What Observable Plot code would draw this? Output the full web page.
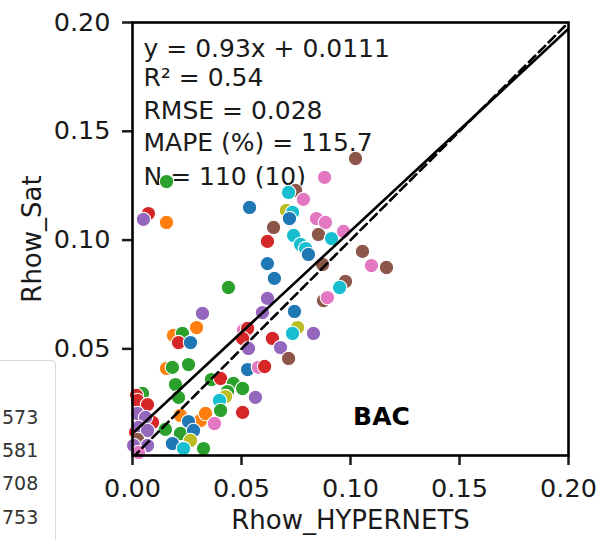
<!DOCTYPE html>
<html>
<head>
<meta charset="utf-8">
<script src="https://cdn.jsdelivr.net/npm/d3@7"></script>
<script src="https://cdn.jsdelivr.net/npm/@observablehq/plot@0.6"></script>
<style>
  html, body { margin: 0; padding: 0; background: #fff; overflow: hidden; }
  #wrap { position: relative; width: 601px; height: 540px; }
  #legend { position: absolute; left: -60px; top: 360px; width: 114px; height: 220px;
    border: 1px solid #d9d9d9; border-radius: 4px; background: #fff; z-index: 2;
    font-family: "DejaVu Sans", sans-serif; font-size: 19px; color: #333; }
  #legend div { position: absolute; left: 61px; }
</style>
</head>
<body>
<div id="wrap">
  <div id="legend"></div>
  <div id="chart"></div>
</div>
<script>
// Rhow_HYPERNETS (x), Rhow_Sat (y), colour group index (tab10)
const hyperX = [0.0156,0.0073,0.0050,0.0156,0.0537,0.0440,0.0881,0.0748,0.0716,0.0784,0.0706,0.0734,0.0720,0.0647,0.0619,0.0739,0.0844,0.0885,0.0853,0.0913,0.0968,0.0771,0.0794,0.0807,0.0619,0.0651,0.0872,0.1055,0.1096,0.1165,0.0977,0.0950,0.0876,0.0894,0.1023,0.0619,0.0596,0.0743,0.0321,0.0294,0.0757,0.0734,0.0830,0.0509,0.0528,0.0505,0.0532,0.0642,0.0679,0.0716,0.0528,0.0578,0.0606,0.0188,0.0229,0.0211,0.0266,0.0156,0.0183,0.0257,0.0197,0.0211,0.0362,0.0404,0.0463,0.0505,0.0436,0.0427,0.0399,0.0404,0.0564,0.0505,0.0220,0.0312,0.0335,0.0257,0.0376,0.0151,0.0220,0.0280,0.0266,0.0183,0.0234,0.0326,0.0046,0.0018,0.0023,0.0069,0.0092,0.0023,0.0060,0.0014,0.0028,0.0069,0.0023,0.0069,0.0005,0.0028];
const satY = [0.1269,0.1122,0.1095,0.1081,0.1150,0.0782,0.1288,0.1228,0.1219,0.1187,0.1136,0.1127,0.1099,0.1058,0.0994,0.1021,0.1099,0.1081,0.1026,0.1007,0.1040,0.0980,0.0961,0.0934,0.0892,0.0824,0.0888,0.0948,0.0883,0.0874,0.0810,0.0782,0.0722,0.0736,0.1375,0.0732,0.0667,0.0672,0.0663,0.0598,0.0598,0.0571,0.0571,0.0585,0.0594,0.0548,0.0502,0.0548,0.0506,0.0456,0.0405,0.0415,0.0419,0.0562,0.0571,0.0529,0.0529,0.0410,0.0415,0.0428,0.0336,0.0277,0.0359,0.0364,0.0341,0.0318,0.0304,0.0281,0.0263,0.0217,0.0277,0.0208,0.0194,0.0171,0.0203,0.0166,0.0157,0.0130,0.0111,0.0125,0.0079,0.0065,0.0042,0.0042,0.0295,0.0286,0.0263,0.0244,0.0162,0.0203,0.0185,0.0116,0.0139,0.0125,0.0084,0.0056,0.0056,0.0024];
const group = [2,3,4,1,0,2,6,5,9,6,8,9,0,5,3,9,6,6,5,9,6,9,9,0,0,0,5,5,6,5,5,9,5,6,5,4,4,0,4,1,8,9,4,6,3,3,4,3,4,5,0,6,3,1,2,3,0,1,2,2,2,2,2,3,2,2,2,8,9,2,4,3,1,1,1,0,6,2,2,0,8,0,9,2,2,3,3,3,3,4,4,3,4,4,5,4,4,6];
const groupColors = ["#1f77b4","#ff7f0e","#2ca02c","#d62728","#9467bd","#8c564b","#e377c2","#7f7f7f","#bcbd22","#17becf"];
const xTicks = [0, 0.05, 0.10, 0.15, 0.20];
const yTicks = [0.05, 0.10, 0.15, 0.20];
const fitSlope = 0.93, fitIntercept = 0.0111;
const statLines = ["y = 0.93x + 0.0111", "R² = 0.54", "RMSE = 0.028", "MAPE (%) = 115.7", "N = 110 (10)"];
const statOffsets = [17, 46, 79, 111, 145];
const siteLabel = "BAC";
const legendLabels = ["573", "581", "708", "753"];
const legendTops = [405, 438, 471, 505];

const pts = hyperX.map((x, i) => ({x, y: satY[i], g: group[i]}));
const fitLine = [0, 0.2].map(x => ({x, y: fitSlope * x + fitIntercept}));
const oneToOne = [0, 0.2].map(x => ({x, y: x}));

const plot = Plot.plot({
  width: 601, height: 540,
  marginLeft: 132, marginRight: 33, marginTop: 22, marginBottom: 85,
  style: {fontFamily: "DejaVu Sans, sans-serif", fontSize: "25px", color: "#1a1a1a", background: "#fff"},
  x: {domain: [0, 0.2]},
  y: {domain: [0.001, 0.2]},
  color: {domain: d3.range(10), range: groupColors},
  marks: [
    ...statLines.map((t, i) => Plot.text([t], {text: d => d, frameAnchor: "top-left", dx: 11, dy: statOffsets[i], textAnchor: "start", lineAnchor: "top", fontSize: 25, fill: "#1a1a1a"})),
    Plot.text([siteLabel], {text: d => d, x: () => 0.1142, y: () => 0.0150, textAnchor: "middle", lineAnchor: "bottom", fontWeight: "bold", fontSize: 25, fill: "#000"}),
    Plot.dot(pts, {x: "x", y: "y", fill: d => d.g, stroke: "white", strokeWidth: 1.1, r: 7.2}),
    Plot.line(oneToOne, {x: "x", y: "y", stroke: "black", strokeWidth: 2.6, strokeDasharray: "9,5", clip: true}),
    Plot.line(fitLine, {x: "x", y: "y", stroke: "black", strokeWidth: 2.6, clip: true}),
    Plot.axisX({ticks: xTicks, tickFormat: d3.format(".2f"), tickSize: 10, tickPadding: 13, strokeWidth: 2.5, label: null, fontSize: 25.5}),
    Plot.axisY({ticks: yTicks, tickFormat: d3.format(".2f"), tickSize: 10, tickPadding: 12, strokeWidth: 2.5, label: null, fontSize: 25.5}),
    Plot.text(["Rhow_HYPERNETS"], {text: d => d, frameAnchor: "bottom", dy: 55, lineAnchor: "top", textAnchor: "middle", fontSize: 26}),
    Plot.text(["Rhow_Sat"], {text: d => d, frameAnchor: "left", dx: -100, rotate: -90, textAnchor: "middle", lineAnchor: "middle", fontSize: 26}),
    Plot.frame({stroke: "black", strokeWidth: 2.6})
  ]
});
document.getElementById("chart").appendChild(plot);

const leg = document.getElementById("legend");
legendLabels.forEach((t, i) => {
  const d = document.createElement("div");
  d.textContent = t;
  d.style.top = (legendTops[i] - 360) + "px";
  leg.appendChild(d);
});
</script>
</body>
</html>
